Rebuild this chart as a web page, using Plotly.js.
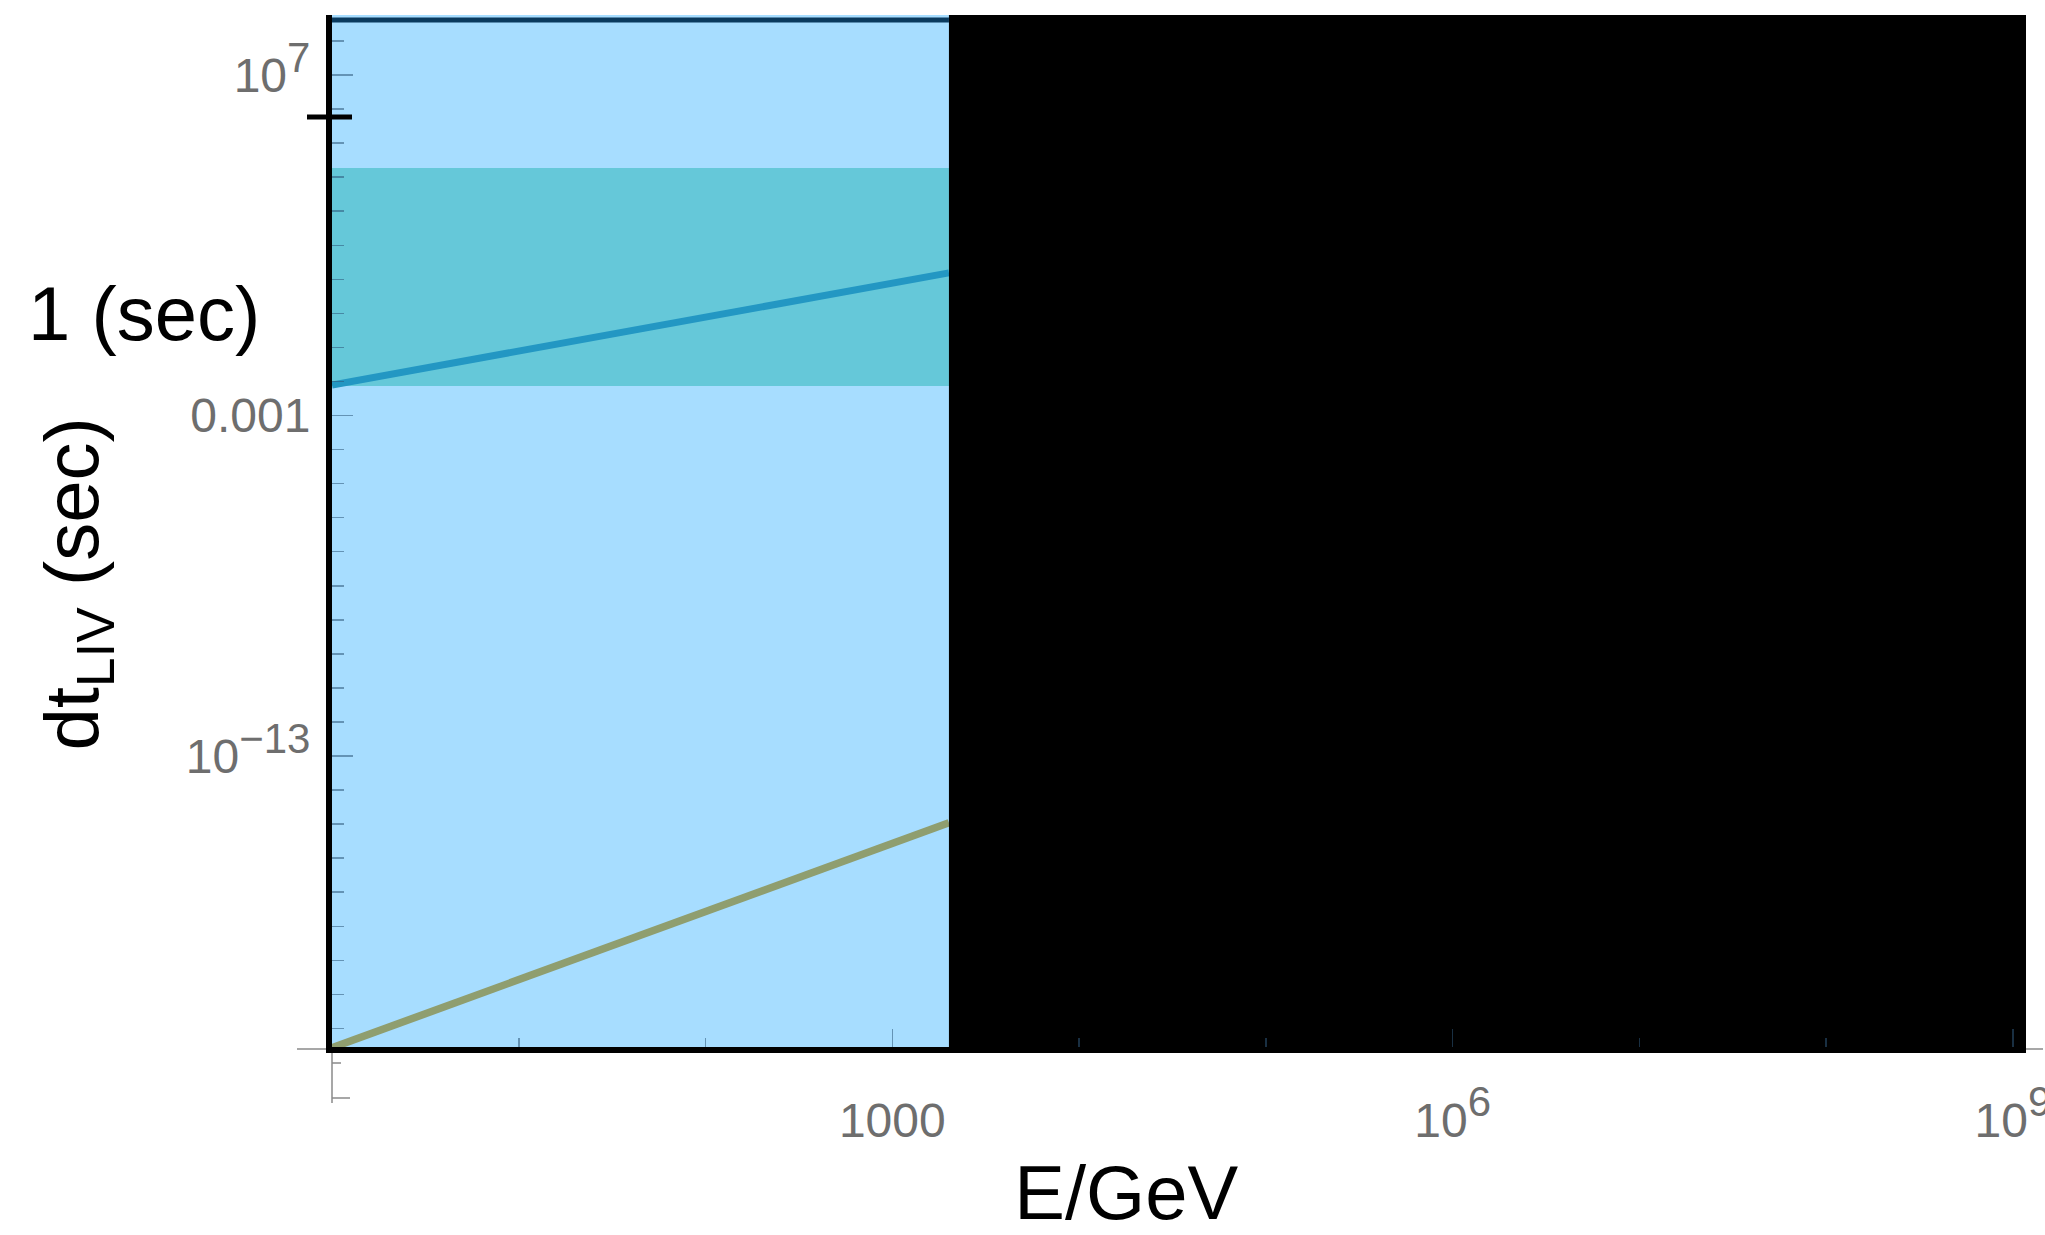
<!DOCTYPE html>
<html><head><meta charset="utf-8">
<script src="https://cdn.plot.ly/plotly-3.0.1.min.js"></script>
<style>html,body{margin:0;padding:0;background:#fff;}#chart{width:2045px;height:1235px;}</style>
</head><body><div id="chart"></div>
<script>
// ---- data ----
const bandE = [1, 2010];
const bandLow = [7.35e-3, 7.35e-3];
const bandHigh = [1.86e4, 1.86e4];
const blueE = [1, 2010];
const blueDt = [7.9e-3, 15.4];
const greenE = [1, 2010];
const greenDt = [2.7e-22, 1.09e-15];
const navyE = [1, 2010];
const navyDt = [4.1e8, 4.1e8];
const blackE = [2010, 3e9];
const blackDt = [1e-24, 1e10];
const xTickVals = [1e3, 1e6, 1e9];
const xTickText = ["1000", "10<sup><span style='font-size:42px'>6</span></sup>", "10<sup><span style='font-size:42px'>9</span></sup>"];
const xMinorVals = [1e1, 1e2, 1e4, 1e5, 1e7, 1e8];
const yTickVals = [1e-13, 1e-3, 1e7];
const yTickText = ["10<sup><span style='font-size:42px'>\u221213</span></sup>", "0.001", "10<sup><span style='font-size:42px'>7</span></sup>"];
const yMinorVals = [1e-21,1e-20,1e-19,1e-18,1e-17,1e-16,1e-15,1e-14,1e-12,1e-11,1e-10,1e-9,1e-8,1e-7,1e-6,1e-5,1e-4,1e-2,1e-1,1,1e1,1e2,1e3,1e4,1e5,1e6,1e8];

// ---- layout geometry ----
const W = 2045, H = 1235;
const M = {l: 332, r: 19, t: 15, b: 188};
const PW = W - M.l - M.r, PH = H - M.t - M.b;
const px = v => (v - M.l) / PW;          // pixel x -> paper
const py = v => (H - M.b - v) / PH;      // pixel y -> paper
const pad = n => '\u00a0'.repeat(n) + '\u200b';

const traces = [
  {x: [bandE[0], bandE[1], bandE[1], bandE[0]], y: [bandLow[0], bandLow[1], bandHigh[1], bandHigh[0]],
   mode: 'lines', fill: 'toself', fillcolor: '#65c8d9', line: {width: 0}, hoverinfo: 'skip'},
  {x: navyE, y: navyDt, mode: 'lines', line: {color: '#0a3a5e', width: 5}},
  {x: blueE, y: blueDt, mode: 'lines', line: {color: '#2397c3', width: 7}},
  {x: greenE, y: greenDt, mode: 'lines', line: {color: '#8f9e6f', width: 7.5}},
  {x: [blackE[0], blackE[1], blackE[1], blackE[0]], y: [blackDt[0], blackDt[0], blackDt[1], blackDt[1]],
   mode: 'lines', fill: 'toself', fillcolor: '#000000', line: {width: 0}, hoverinfo: 'skip'}
];

const tickCol = 'rgba(45,85,120,0.55)';
const gray = '#8a8a8a';
const layout = {
  width: W, height: H,
  margin: M,
  paper_bgcolor: '#ffffff',
  plot_bgcolor: '#a7ddff',
  showlegend: false,
  font: {family: '"Liberation Sans", Arial, Helvetica, sans-serif', color: '#6e6e6e', size: 48},
  xaxis: {
    type: 'log', range: [0, 9.07], automargin: false,
    showgrid: false, zeroline: false,
    showline: true, linecolor: '#000', linewidth: 6,
    tickmode: 'array', tickvals: xTickVals, ticktext: xTickText,
    ticks: 'inside', ticklen: 18, tickwidth: 1.5, tickcolor: tickCol,
    minor: {tickmode: 'array', tickvals: xMinorVals, ticks: 'inside', ticklen: 9, tickwidth: 1.5, tickcolor: tickCol, showgrid: false},
    tickfont: {size: 48, color: '#6e6e6e'},
    ticklabelstandoff: 26,
    ticklabeloverflow: 'allow',
    title: {text: 'E/GeV' + pad(5), font: {size: 76, color: '#000'}, standoff: 28}
  },
  yaxis: {
    type: 'log', range: [-21.546, 8.762], automargin: false,
    showgrid: false, zeroline: false,
    showline: true, linecolor: '#000', linewidth: 6,
    tickmode: 'array', tickvals: yTickVals, ticktext: yTickText,
    ticks: 'inside', ticklen: 21, tickwidth: 1.5, tickcolor: tickCol,
    minor: {tickmode: 'array', tickvals: yMinorVals, ticks: 'inside', ticklen: 12, tickwidth: 1.5, tickcolor: tickCol, showgrid: false},
    tickfont: {size: 48, color: '#6e6e6e'},
    ticklabelstandoff: 6,
    ticklabeloverflow: 'allow',
    title: {text: 'dt<sub>LIV</sub> (sec)' + pad(5), font: {size: 76, color: '#000'}, standoff: 64}
  },
  annotations: [
    {xref: 'paper', yref: 'y', x: px(262), y: 0, xanchor: 'right', yanchor: 'middle',
     text: '1 (sec)', showarrow: false, font: {size: 76, color: '#000'}}
  ],
  shapes: [
    // cross tick on the y axis
    {type: 'line', xref: 'paper', yref: 'paper', x0: px(307), x1: px(352), y0: py(117), y1: py(117), line: {color: '#000', width: 5}},
    // thin gray stray axis pieces
    {type: 'line', xref: 'paper', yref: 'paper', x0: px(297), x1: px(326), y0: py(1049), y1: py(1049), line: {color: gray, width: 1.5}},
    {type: 'line', xref: 'paper', yref: 'paper', x0: px(332), x1: px(332), y0: py(1053), y1: py(1103), line: {color: gray, width: 1.5}},
    {type: 'line', xref: 'paper', yref: 'paper', x0: px(332), x1: px(341), y0: py(1063), y1: py(1063), line: {color: gray, width: 1.5}},
    {type: 'line', xref: 'paper', yref: 'paper', x0: px(332), x1: px(350), y0: py(1098), y1: py(1098), line: {color: gray, width: 1.5}},
    {type: 'line', xref: 'paper', yref: 'paper', x0: px(2026), x1: px(2043), y0: py(1049), y1: py(1049), line: {color: gray, width: 1.5}}
  ]
};

Plotly.newPlot('chart', traces, layout, {displayModeBar: false, staticPlot: true});
</script>
</body></html>
